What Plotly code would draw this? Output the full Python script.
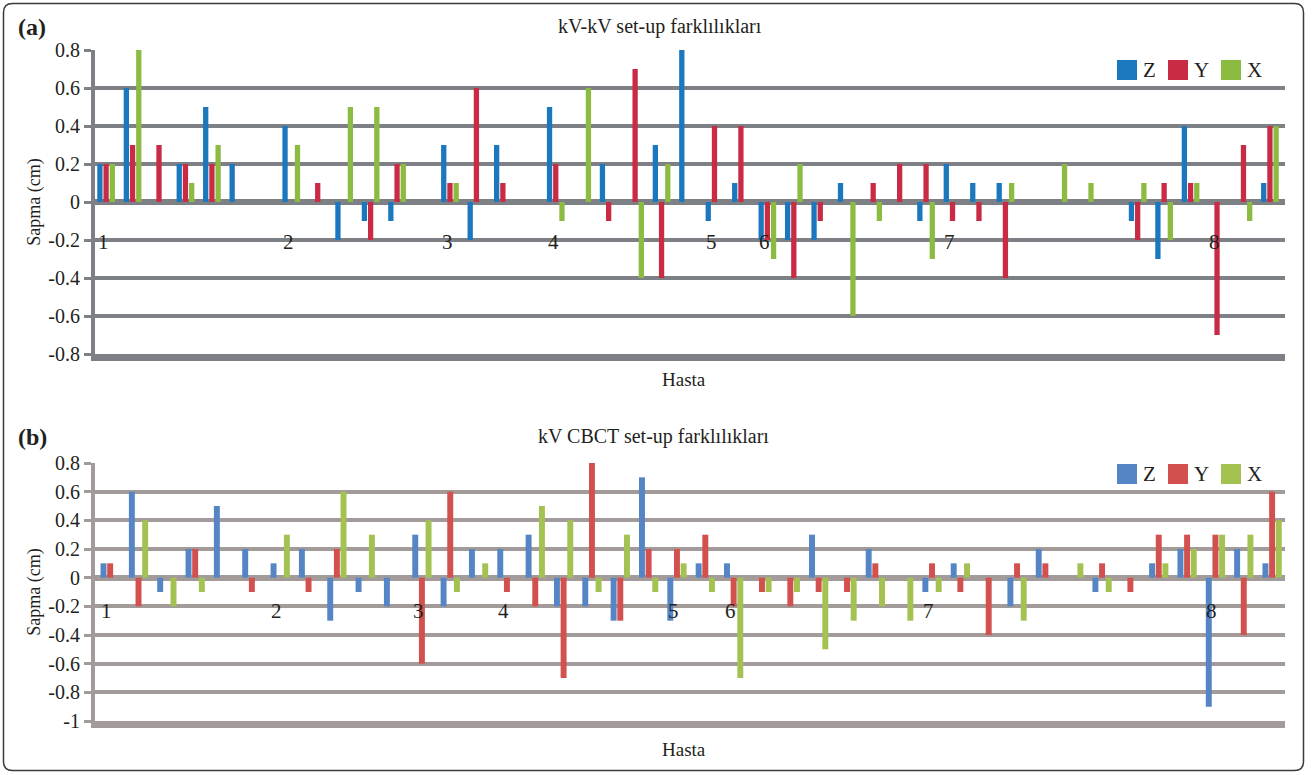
import plotly.graph_objects as go

# ---------------- data ----------------
series_names = ["Z", "Y", "X"]

# Panel (a): kV-kV set-up differences, 45 sessions
a_Z = [0.2, 0.6, 0, 0.2, 0.5, 0.2, 0, 0.4, 0, -0.2, -0.1, -0.1, 0, 0.3, -0.2, 0.3, 0, 0.5, 0, 0.2,
       0, 0.3, 0.8, -0.1, 0.1, -0.2, -0.2, -0.2, 0.1, 0, 0, -0.1, 0.2, 0.1, 0.1, 0, 0, 0, 0, -0.1,
       -0.3, 0.4, 0, 0, 0.1]
a_Y = [0.2, 0.3, 0.3, 0.2, 0.2, 0, 0, 0, 0.1, 0, -0.2, 0.2, 0, 0.1, 0.6, 0.1, 0, 0.2, 0, -0.1,
       0.7, -0.4, 0, 0.4, 0.4, -0.2, -0.4, -0.1, 0, 0.1, 0.2, 0.2, -0.1, -0.1, -0.4, 0, 0, 0, 0, -0.2,
       0.1, 0.1, -0.7, 0.3, 0.4]
a_X = [0.2, 0.8, 0, 0.1, 0.3, 0, 0, 0.3, 0, 0.5, 0.5, 0.2, 0, 0.1, 0, 0, 0, -0.1, 0.6, 0,
       -0.4, 0.2, 0, 0, 0, -0.3, 0.2, 0, -0.6, -0.1, 0, -0.3, 0, 0, 0.1, 0, 0.2, 0.1, 0, 0.1,
       -0.2, 0.1, 0, -0.1, 0.4]
a_patient_idx = [0, 7, 13, 17, 23, 25, 32, 42]

# Panel (b): kV CBCT set-up differences, 42 sessions
b_Z = [0.1, 0.6, -0.1, 0.2, 0.5, 0.2, 0.1, 0.2, -0.3, -0.1, -0.2, 0.3, -0.2, 0.2, 0.2, 0.3, -0.2, -0.2, -0.3, 0.7,
       -0.3, 0.1, 0.1, 0, 0, 0.3, 0, 0.2, 0, -0.1, 0.1, 0, -0.2, 0.2, 0, -0.1, 0, 0.1, 0.2, -0.9,
       0.2, 0.1]
b_Y = [0.1, -0.2, 0, 0.2, 0, -0.1, 0, -0.1, 0.2, 0, 0, -0.6, 0.6, 0, -0.1, -0.2, -0.7, 0.8, -0.3, 0.2,
       0.2, 0.3, -0.2, -0.1, -0.2, -0.1, -0.1, 0.1, 0, 0.1, -0.1, -0.4, 0.1, 0.1, 0, 0.1, -0.1, 0.3, 0.3, 0.3,
       -0.4, 0.6]
b_X = [0, 0.4, -0.2, -0.1, 0, 0, 0.3, 0, 0.6, 0.3, 0, 0.4, -0.1, 0.1, 0, 0.5, 0.4, -0.1, 0.3, -0.1,
       0.1, -0.1, -0.7, -0.1, -0.1, -0.5, -0.3, -0.2, -0.3, -0.1, 0.1, 0, -0.3, 0, 0.1, -0.1, 0, 0.1, 0.2, 0.3,
       0.3, 0.4]
b_patient_idx = [0, 6, 11, 14, 20, 22, 29, 39]

patient_labels = ["1", "2", "3", "4", "5", "6", "7", "8"]

a_yticks = [0.8, 0.6, 0.4, 0.2, 0, -0.2, -0.4, -0.6, -0.8]
a_yticktext = ["0.8", "0.6", "0.4", "0.2", "0", "-0.2", "-0.4", "-0.6", "-0.8"]
b_yticks = [0.8, 0.6, 0.4, 0.2, 0, -0.2, -0.4, -0.6, -0.8, -1]
b_yticktext = ["0.8", "0.6", "0.4", "0.2", "0", "-0.2", "-0.4", "-0.6", "-0.8", "-1"]

# ---------------- style ----------------
W, H = 1314, 775
FONT = "Liberation Serif"
TXT = "#231f20"
a_colors = ["#1b78be", "#c92b44", "#8cbb42"]
b_colors = ["#5585c4", "#d2504e", "#a3c252"]
a_grid = "#7d8185"
b_grid = "#a29b99"

offsets = [-0.335, -0.1, 0.135]
bw = 0.2

def py(y):
    return 1 - y / H

def px(x):
    return x / W

fig = go.Figure()

for k, (vals, name) in enumerate(zip([a_Z, a_Y, a_X], series_names)):
    fig.add_trace(go.Bar(
        x=list(range(len(vals))), y=vals, name=name, showlegend=False,
        marker=dict(color=a_colors[k], line=dict(width=0)),
        width=bw, offset=offsets[k], xaxis="x", yaxis="y"))

for k, (vals, name) in enumerate(zip([b_Z, b_Y, b_X], series_names)):
    fig.add_trace(go.Bar(
        x=list(range(len(vals))), y=vals, name=name, showlegend=False,
        marker=dict(color=b_colors[k], line=dict(width=0)),
        width=bw + 0.01, offset=offsets[k], xaxis="x2", yaxis="y2"))

xdom = [px(95), px(1285)]

fig.update_layout(
    width=W, height=H, autosize=False,
    margin=dict(l=0, r=0, t=0, b=0, pad=0, autoexpand=False),
    paper_bgcolor="white", plot_bgcolor="white",
    barmode="overlay", showlegend=False,
    font=dict(family=FONT, size=17, color=TXT),
    xaxis=dict(domain=xdom, anchor="y", range=[-0.42, 44.57], showgrid=False, zeroline=False,
               showticklabels=False, ticks="", showline=True, linecolor=a_grid, linewidth=7,
               fixedrange=True, automargin=False),
    yaxis=dict(domain=[py(354), py(50)], anchor="x", range=[-0.8, 0.8],
               tickvals=a_yticks, ticktext=a_yticktext,
               showgrid=True, gridcolor=a_grid, gridwidth=4,
               zeroline=True, zerolinecolor=a_grid, zerolinewidth=6,
               showline=True, linecolor=a_grid, linewidth=4,
               ticks="outside", ticklen=7, tickwidth=3, tickcolor=a_grid,
               tickfont=dict(family=FONT, size=20, color=TXT), automargin=False,
               title=dict(text="Sapma (cm)", font=dict(family=FONT, size=18, color=TXT), standoff=4)),
    xaxis2=dict(domain=xdom, anchor="y2", range=[-0.53, 41.46], showgrid=False, zeroline=False,
                showticklabels=False, ticks="", showline=True, linecolor=b_grid, linewidth=7,
                fixedrange=True, automargin=False),
    yaxis2=dict(domain=[py(721), py(463)], anchor="x2", range=[-1, 0.8],
                tickvals=b_yticks, ticktext=b_yticktext,
                showgrid=True, gridcolor=b_grid, gridwidth=4,
                zeroline=True, zerolinecolor=b_grid, zerolinewidth=6,
                showline=True, linecolor=b_grid, linewidth=4,
                ticks="outside", ticklen=7, tickwidth=3, tickcolor=b_grid,
                tickfont=dict(family=FONT, size=20, color=TXT), automargin=False,
                title=dict(text="Sapma (cm)", font=dict(family=FONT, size=18, color=TXT), standoff=4)),
)

ann = []
ann.append(dict(text="<b>(a)</b>", x=px(16), y=py(27), xref="paper", yref="paper",
                xanchor="left", yanchor="middle", showarrow=False,
                font=dict(family=FONT, size=24, color=TXT)))
ann.append(dict(text="<b>(b)</b>", x=px(16), y=py(437), xref="paper", yref="paper",
                xanchor="left", yanchor="middle", showarrow=False,
                font=dict(family=FONT, size=24, color=TXT)))
ann.append(dict(text="kV-kV set-up farklılıkları", x=px(660), y=py(27), xref="paper", yref="paper",
                xanchor="center", yanchor="middle", showarrow=False,
                font=dict(family=FONT, size=20, color=TXT)))
ann.append(dict(text="kV CBCT set-up farklılıkları", x=px(653), y=py(436), xref="paper", yref="paper",
                xanchor="center", yanchor="middle", showarrow=False,
                font=dict(family=FONT, size=20, color=TXT)))
ann.append(dict(text="Hasta", x=px(684), y=py(380), xref="paper", yref="paper",
                xanchor="center", yanchor="middle", showarrow=False,
                font=dict(family=FONT, size=19, color=TXT)))
ann.append(dict(text="Hasta", x=px(684), y=py(749), xref="paper", yref="paper",
                xanchor="center", yanchor="middle", showarrow=False,
                font=dict(family=FONT, size=19, color=TXT)))
for i, lab in zip(a_patient_idx, patient_labels):
    ann.append(dict(text=lab, x=i - 0.1, y=-0.21, xref="x", yref="y", showarrow=False,
                    xanchor="center", yanchor="middle",
                    font=dict(family=FONT, size=21, color=TXT)))
for i, lab in zip(b_patient_idx, patient_labels):
    ann.append(dict(text=lab, x=i - 0.12, y=-0.23, xref="x2", yref="y2", showarrow=False,
                    xanchor="center", yanchor="middle",
                    font=dict(family=FONT, size=21, color=TXT)))

# custom legends (tall colour swatches + serif labels)
shapes = []
legend_x = [1117, 1168, 1221]
for colors, yc in ((a_colors, 70), (b_colors, 474)):
    for k, name in enumerate(series_names):
        sx = legend_x[k]
        shapes.append(dict(type="rect", xref="paper", yref="paper",
                           x0=px(sx), x1=px(sx + 20), y0=py(yc + 10), y1=py(yc - 10),
                           fillcolor=colors[k], line=dict(width=0)))
        ann.append(dict(text=name, x=px(sx + 24), y=py(yc), xref="paper", yref="paper",
                        xanchor="left", yanchor="middle", showarrow=False,
                        font=dict(family=FONT, size=21, color=TXT)))

# rounded outer frame
x0, y0, x1, y1, r = 3.5, 3.5, 1303.5, 770.5, 9
def P(x, y):
    return f"{x/W:.5f},{1 - y/H:.5f}"
path = (f"M {P(x0 + r, y0)} L {P(x1 - r, y0)} Q {P(x1, y0)} {P(x1, y0 + r)} "
        f"L {P(x1, y1 - r)} Q {P(x1, y1)} {P(x1 - r, y1)} "
        f"L {P(x0 + r, y1)} Q {P(x0, y1)} {P(x0, y1 - r)} "
        f"L {P(x0, y0 + r)} Q {P(x0, y0)} {P(x0 + r, y0)} Z")
shapes.append(dict(type="path", path=path, xref="paper", yref="paper",
                   line=dict(color="#3a3a3a", width=1.5), fillcolor="rgba(0,0,0,0)"))

fig.update_layout(annotations=ann, shapes=shapes)

post = (
    "var gd=document.getElementsByClassName('plotly-graph-div')[0];"
    "document.documentElement.style.margin='0';document.documentElement.style.padding='0';"
    "document.documentElement.style.overflow='hidden';"
    "document.body.style.margin='0';document.body.style.padding='0';"
    "document.body.style.overflow='hidden';"
    "gd.style.position='fixed';gd.style.top='0px';gd.style.left='0px';"
)
fig.write_html("out.html", config={"displayModeBar": False}, post_script=post)
